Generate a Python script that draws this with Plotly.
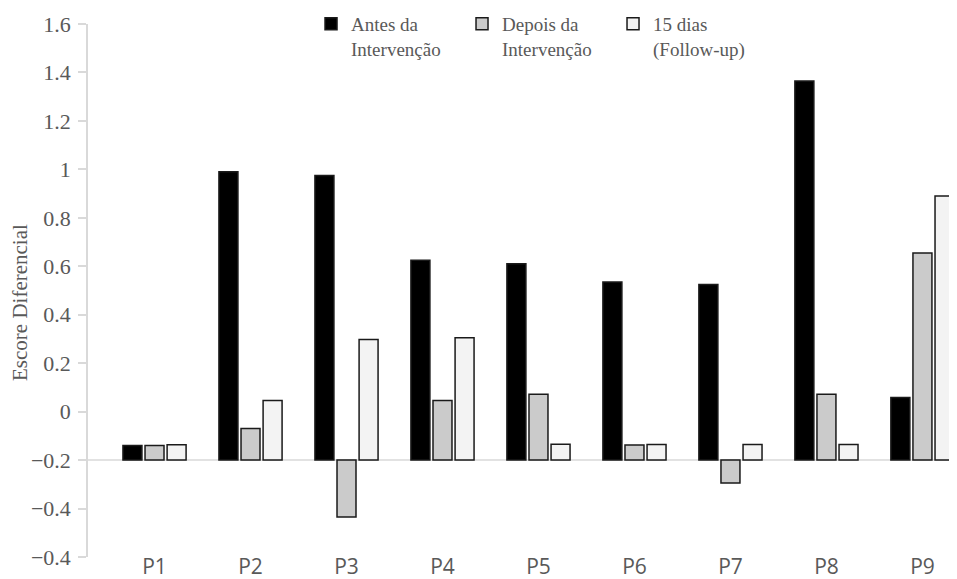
import plotly.graph_objects as go

categories = ["P1", "P2", "P3", "P4", "P5", "P6", "P7", "P8", "P9"]
antes = [-0.14, 0.99, 0.975, 0.625, 0.61, 0.535, 0.525, 1.365, 0.058]
depois = [-0.14, -0.07, -0.435, 0.046, 0.072, -0.138, -0.295, 0.072, 0.655]
follow = [-0.137, 0.046, 0.298, 0.305, -0.135, -0.136, -0.136, -0.136, 0.89]
series_names = ["Antes da<br>Intervenção", "Depois da<br>Intervenção", "15 dias<br>(Follow-up)"]
tick_vals = [-0.6, -0.4, -0.2, 0, 0.2, 0.4, 0.6, 0.8, 1.0, 1.2, 1.4, 1.6]
tick_text = ["−0.4", "−0.4", "−0.2", "0", "0.2", "0.4", "0.6", "0.8", "1", "1.2", "1.4", "1.6"]
y_title = "Escore Diferencial"
BASELINE = -0.2

fills = ["#000000", "#cbcbcb", "#f3f3f3"]
serif = "Liberation Serif"
grey = "#595959"

fig = go.Figure()
for name, vals, col in zip(series_names, [antes, depois, follow], fills):
    fig.add_trace(go.Bar(
        x=categories,
        y=[v - BASELINE for v in vals],
        base=BASELINE,
        name=name,
        marker=dict(color=col, line=dict(color="#1a1a1a", width=1.5)),
    ))

fig.add_shape(type="line", xref="paper", x0=0, x1=1, yref="y", y0=BASELINE, y1=BASELINE,
              line=dict(color="#d9d9d9", width=1.5), layer="below")

fig.add_annotation(text=y_title, textangle=-90, xref="paper", yref="paper",
                   x=-0.078, y=0.477, xanchor="center", yanchor="middle", showarrow=False,
                   font=dict(family=serif, size=21, color=grey))

fig.update_layout(
    width=949, height=571,
    margin=dict(l=80, r=0, t=16, b=22, autoexpand=False),
    paper_bgcolor="white", plot_bgcolor="white",
    barmode="group", bargap=0.31, bargroupgap=0.14,
    showlegend=True,
    legend=dict(orientation="h", xref="container", yref="paper",
                x=0.3193, y=1.036, xanchor="left", yanchor="top",
                font=dict(family=serif, size=19, color=grey),
                valign="top", bgcolor="rgba(0,0,0,0)",
                entrywidth=106, traceorder="normal"),
    xaxis=dict(range=[-0.693, 8.36], showline=False, showgrid=False, zeroline=False,
               automargin=False, ticks="", ticklabelstandoff=-5,
               tickfont=dict(family="Open Sans", size=21, color=grey)),
    yaxis=dict(range=[-0.6, 1.6], tickvals=tick_vals, ticktext=tick_text,
               automargin=False,
               showline=True, linecolor="#d9d9d9", linewidth=1.5,
               ticks="outside", ticklen=8, tickcolor="#d9d9d9", tickwidth=1.5,
               ticklabelstandoff=3,
               showgrid=False, zeroline=False,
               tickfont=dict(family=serif, size=22, color=grey)),
)

fig.write_html("out.html")
